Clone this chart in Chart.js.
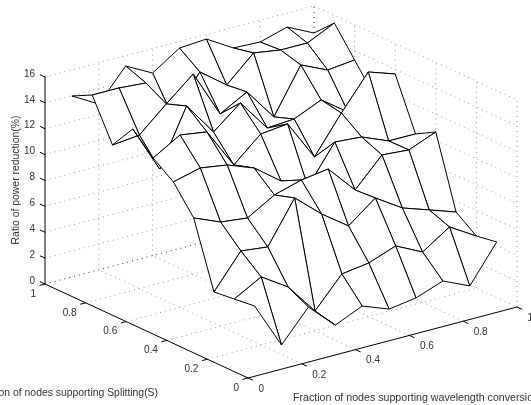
<!DOCTYPE html>
<html>
<head>
<meta charset="utf-8">
<title>Ratio of power reduction</title>
<script src="https://cdn.jsdelivr.net/npm/chart.js@4/dist/chart.umd.js"></script>
<style>
  html, body { margin: 0; padding: 0; background: #fff; overflow: hidden; }
  canvas { display: block; }
</style>
</head>
<body>
<canvas id="grafico" width="531" height="405"></canvas>
<script>
// W = wavelength conversion fraction, S = splitting fraction
const fractionW = [0.1, 0.2, 0.3, 0.4, 0.5, 0.6, 0.7, 0.8, 0.9, 1];
const fractionS = [0.1, 0.2, 0.3, 0.4, 0.5, 0.6, 0.7, 0.8, 0.9, 1];

// ratio of power reduction (%), one list per S value, along W
const ratioS01 = [4.29, 0.73, 3.11, 1.17, 2.09, 1.31, 1.62, 2.38, 1.45, 4.30];
const ratioS02 = [4.10, 5.26, 3.93, 1.53, 3.84, 4.14, 4.91, 3.89, 5.28, 4.03];
const ratioS03 = [3.92, 6.54, 6.30, 9.54, 7.75, 6.28, 7.89, 6.57, 5.87, 5.16];
const ratioS04 = [8.91, 8.05, 7.81, 9.04, 9.65, 9.95, 7.78, 9.94, 9.78, 10.62];
const ratioS05 = [10.97, 11.50, 11.18, 10.40, 8.85, 7.84, 10.76, 10.60, 9.75, 9.74];
const ratioS06 = [12.09, 13.32, 13.01, 9.91, 11.75, 11.98, 8.88, 11.73, 14.35, 13.65];
const ratioS07 = [13.61, 9.97, 14.29, 11.73, 13.42, 10.94, 11.09, 12.01, 10.53, 11.14];
const ratioS08 = [11.65, 11.87, 13.72, 15.49, 11.85, 13.00, 10.52, 13.99, 13.05, 13.28];
const ratioS09 = [14.78, 14.78, 14.61, 11.44, 14.37, 12.81, 14.74, 14.42, 14.41, 15.41];
const ratioS10 = [13.98, 12.81, 15.20, 14.11, 15.49, 15.64, 14.40, 14.31, 14.92, 13.91];
const ratioRows = [ratioS01, ratioS02, ratioS03, ratioS04, ratioS05, ratioS06, ratioS07, ratioS08, ratioS09, ratioS10];

const ticksFloor = [0, 0.2, 0.4, 0.6, 0.8, 1];
const ticksFloorText = ['0', '0.2', '0.4', '0.6', '0.8', '1'];
const ticksRatio = [0, 2, 4, 6, 8, 10, 12, 14, 16];

const titleRatio = 'Ratio of power reduction(%)';
const titleS = 'Fraction of nodes supporting Splitting(S)';
const titleW = 'Fraction of nodes supporting wavelength conversion(W)';

// oblique view of the box, gives a point on the flat scales
function proyectar(w, s, z) {
  return {
    x: 248 + 269 * w - 203 * s,
    y: 378 - 71 * w - 94 * s - 12.94 * z
  };
}

function trazo(puntos, color, ancho, guiones) {
  return {
    data: puntos,
    showLine: true,
    fill: false,
    borderColor: color,
    borderWidth: ancho,
    borderDash: guiones || [],
    pointRadius: 0,
    tension: 0
  };
}

function celda(i, j) {
  const esquinas = [[i, j], [i + 1, j], [i + 1, j + 1], [i, j + 1], [i, j]];
  return {
    data: esquinas.map(([a, b]) => proyectar(fractionW[a], fractionS[b], ratioRows[b][a])),
    showLine: true,
    fill: 'shape',
    backgroundColor: '#fff',
    borderColor: '#000',
    borderWidth: 1,
    borderJoinStyle: 'round',
    pointRadius: 0,
    tension: 0
  };
}

// Chart.js paints the first dataset last, so the nearest cells go first
const celdas = [];
for (let suma = 0; suma <= 16; suma++) {
  for (let j = 0; j < 9; j++) {
    const i = suma - j;
    if (i >= 0 && i < 9) celdas.push(celda(i, j));
  }
}

const puntos = '#969696';
const rejilla = [];
const dots = [1, 4];
ticksFloor.slice(1, 5).forEach(t => {
  // floor
  rejilla.push(trazo([proyectar(t, 0, 0), proyectar(t, 1, 0)], puntos, 1, dots));
  rejilla.push(trazo([proyectar(0, t, 0), proyectar(1, t, 0)], puntos, 1, dots));
  // back walls
  rejilla.push(trazo([proyectar(t, 1, 0), proyectar(t, 1, 16)], puntos, 1, dots));
  rejilla.push(trazo([proyectar(1, t, 0), proyectar(1, t, 16)], puntos, 1, dots));
});
ticksRatio.forEach(z => {
  const color = z === 0 ? '#333' : puntos;
  rejilla.push(trazo([proyectar(0, 1, z), proyectar(1, 1, z)], color, 1, dots));
  rejilla.push(trazo([proyectar(1, 1, z), proyectar(1, 0, z)], puntos, 1, dots));
});
rejilla.push(trazo([proyectar(1, 1, 0), proyectar(1, 1, 16)], '#333', 1, dots));
rejilla.push(trazo([proyectar(1, 0, 0), proyectar(1, 0, 16)], puntos, 1, dots));

// solid axes and their ticks
const ejes = [
  trazo([proyectar(0, 1, 0), proyectar(0, 1, 16)], '#000', 1),
  trazo([proyectar(0, 1, 0), proyectar(0, 0, 0)], '#000', 1),
  trazo([proyectar(0, 0, 0), proyectar(1, 0, 0)], '#000', 1)
];
ticksRatio.forEach(z => {
  ejes.push(trazo([proyectar(0, 1, z), proyectar(0, 1.025, z)], '#000', 1));
});
ticksFloor.forEach(t => {
  ejes.push(trazo([proyectar(0, t, 0), proyectar(-0.02, t, 0)], '#000', 1));
  ejes.push(trazo([proyectar(t, 0, 0), proyectar(t, -0.025, 0)], '#000', 1));
});

const textos = {
  id: 'textos',
  afterDraw(chart) {
    const ctx = chart.ctx;
    const px = v => chart.scales.x.getPixelForValue(v);
    const py = v => chart.scales.y.getPixelForValue(v);
    ctx.save();
    ctx.fillStyle = '#333';
    ctx.font = '10px "Liberation Sans"';
    ctx.textBaseline = 'middle';

    ctx.textAlign = 'right';
    ticksRatio.forEach(z => {
      const p = proyectar(0, 1, z);
      ctx.fillText(String(z), px(p.x - 10), py(p.y - 3));
    });
    ticksFloor.forEach((t, n) => {
      const a = proyectar(0, t, 0);
      ctx.fillText(ticksFloorText[n], px(a.x - 9), py(a.y + 10));
    });

    ctx.textAlign = 'left';
    ticksFloor.forEach((t, n) => {
      const b = proyectar(t, 0, 0);
      ctx.fillText(ticksFloorText[n], px(b.x + 10.5), py(b.y + 11));
    });

    ctx.font = '10.4px "Liberation Sans"';
    ctx.textAlign = 'right';
    ctx.fillText(titleS, px(158), py(393));
    ctx.font = '10.65px "Liberation Sans"';
    ctx.textAlign = 'left';
    ctx.fillText(titleW, px(293), py(398));

    ctx.font = '10.4px "Liberation Sans"';
    ctx.save();
    ctx.translate(px(16), py(180));
    ctx.rotate(-Math.PI / 2);
    ctx.textAlign = 'center';
    ctx.fillText(titleRatio, 0, 0);
    ctx.restore();
    ctx.restore();
  }
};

new Chart(document.getElementById('grafico').getContext('2d'), {
  type: 'scatter',
  data: { datasets: [...celdas, ...ejes, ...rejilla] },
  options: {
    responsive: false,
    animation: false,
    layout: { padding: 0 },
    plugins: { legend: { display: false }, tooltip: { enabled: false } },
    events: [],
    scales: {
      x: { type: 'linear', display: false, min: 0, max: 531 },
      y: { type: 'linear', display: false, min: 0, max: 405, reverse: true }
    }
  },
  plugins: [textos]
});
</script>
</body>
</html>
